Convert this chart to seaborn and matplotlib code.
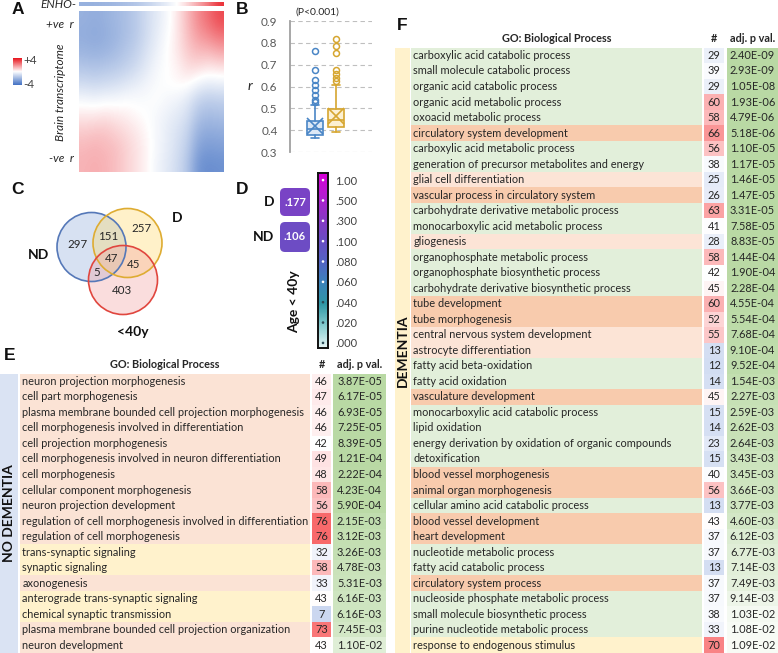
import numpy as np
import matplotlib
matplotlib.use("Agg")
import matplotlib.pyplot as plt
import seaborn as sns
from matplotlib.colors import LinearSegmentedColormap, TwoSlopeNorm
from matplotlib.patches import Circle, Rectangle, FancyBboxPatch

# ---------------- data ----------------
# Panel A: coarse reading of the correlation heat map (rows top->bottom, cols left->right)
heat_rows = [
    [-2.2, -2.3, -2.2, -2.0, -1.8, -1.5, -1.0, -0.6, -0.2, 0.4, 1.2, 2.0, 2.5, 3.1],
    [-2.3, -2.4, -2.3, -2.1, -1.8, -1.5, -1.0, -0.5, -0.1, 0.4, 1.1, 1.7, 2.0, 2.4],
    [-2.1, -2.2, -2.1, -1.9, -1.6, -1.3, -0.8, -0.4, 0.0, 0.4, 0.9, 1.2, 1.2, 1.5],
    [-1.6, -1.7, -1.6, -1.5, -1.3, -1.0, -0.6, -0.2, 0.0, 0.2, 0.6, 0.6, 0.4, 0.5],
    [-1.0, -1.1, -1.0, -0.9, -0.7, -0.5, -0.3, -0.1, 0.0, 0.1, 0.1, -0.3, -0.5, -0.4],
    [-0.2, -0.3, -0.2, -0.2, -0.1, -0.1, -0.1, 0.0, -0.2, -0.3, -0.6, -1.2, -1.4, -1.3],
    [0.4, 0.4, 0.5, 0.4, 0.3, 0.1, 0.0, -0.2, -0.4, -0.6, -0.9, -1.7, -1.9, -1.8],
    [0.9, 1.0, 1.0, 0.8, 0.6, 0.4, 0.1, -0.2, -0.5, -0.8, -1.2, -2.2, -2.4, -2.3],
    [1.2, 1.3, 1.2, 1.1, 0.8, 0.5, 0.2, -0.2, -0.5, -0.9, -1.4, -2.6, -2.8, -2.7],
    [1.3, 1.4, 1.3, 1.1, 0.8, 0.5, 0.2, -0.3, -0.6, -1.0, -1.6, -3.0, -3.2, -3.1],
]
enho_profile = [-2.2, -2.2, -2.1, -2.0, -1.8, -1.6, -1.3, -0.9, -0.5, 0.0, 0.7, 1.5, 2.3, 3.5]

# Panel B: box statistics (ND, D)
box_groups = ["ND", "D"]
box_whislo = [0.366, 0.392]
box_q1 = [0.378, 0.414]
box_med = [0.405, 0.445]
box_mean = [0.418, 0.465]
box_q3 = [0.440, 0.498]
box_whishi = [0.514, 0.605]
box_fliers = [
    [0.529, 0.540, 0.560, 0.582, 0.605, 0.628, 0.674, 0.763],
    [0.624, 0.640, 0.656, 0.674, 0.753, 0.784, 0.819],
]

# Panel C: Venn counts
venn_sets = ["ND", "D", "<40y"]
venn_only_nd, venn_only_d, venn_only_y = 297, 257, 403
venn_nd_d, venn_d_y, venn_nd_y, venn_all = 151, 45, 5, 47

# Panel D
age_groups = ["D", "ND"]
age_values = [0.177, 0.106]
scale_values = [0.0, 0.02, 0.04, 0.06, 0.08, 0.10, 0.30, 0.50, 1.00]
scale_labels = [".000", ".020", ".040", ".060", ".080", ".100", ".300", ".500", "1.00"]

# Panel E
terms_E = [
    "neuron projection morphogenesis", "cell part morphogenesis",
    "plasma membrane bounded cell projection morphogenesis",
    "cell morphogenesis involved in differentiation", "cell projection morphogenesis",
    "cell morphogenesis involved in neuron differentiation", "cell morphogenesis",
    "cellular component morphogenesis", "neuron projection development",
    "regulation of cell morphogenesis involved in differentiation",
    "regulation of cell morphogenesis", "trans-synaptic signaling", "synaptic signaling",
    "axonogenesis", "anterograde trans-synaptic signaling", "chemical synaptic transmission",
    "plasma membrane bounded cell projection organization", "neuron development",
]
cats_E = ["m"] * 11 + ["s", "s", "m", "s", "s", "m", "m"]
counts_E = [46, 47, 46, 46, 42, 49, 48, 58, 56, 76, 76, 32, 58, 33, 43, 7, 73, 43]
pvals_E = ["3.87E-05", "6.17E-05", "6.93E-05", "7.25E-05", "8.39E-05", "1.21E-04",
           "2.22E-04", "4.23E-04", "5.90E-04", "2.15E-03", "3.12E-03", "3.26E-03",
           "4.78E-03", "5.31E-03", "6.16E-03", "6.16E-03", "7.45E-03", "1.10E-02"]

# Panel F
terms_F = [
    "carboxylic acid catabolic process", "small molecule catabolic process",
    "organic acid catabolic process", "organic acid metabolic process",
    "oxoacid metabolic process", "circulatory system development",
    "carboxylic acid metabolic process", "generation of precursor metabolites and energy",
    "glial cell differentiation", "vascular process in circulatory system",
    "carbohydrate derivative metabolic process", "monocarboxylic acid metabolic process",
    "gliogenesis", "organophosphate metabolic process", "organophosphate biosynthetic process",
    "carbohydrate derivative biosynthetic process", "tube development", "tube morphogenesis",
    "central nervous system development", "astrocyte differentiation",
    "fatty acid beta-oxidation", "fatty acid oxidation", "vasculature development",
    "monocarboxylic acid catabolic process", "lipid oxidation",
    "energy derivation by oxidation of organic compounds", "detoxification",
    "blood vessel morphogenesis", "animal organ morphogenesis",
    "cellular amino acid catabolic process", "blood vessel development", "heart development",
    "nucleotide metabolic process", "fatty acid catabolic process", "circulatory system process",
    "nucleoside phosphate metabolic process", "small molecule biosynthetic process",
    "purine nucleotide metabolic process", "response to endogenous stimulus",
]
cats_F = ["g", "g", "g", "g", "g", "v", "g", "g", "p", "v", "g", "g", "p", "g", "g", "g",
          "v", "v", "p", "p", "g", "g", "v", "g", "g", "g", "g", "v", "v", "g", "v", "v",
          "g", "g", "v", "g", "g", "g", "y"]
counts_F = [29, 39, 29, 60, 58, 66, 56, 38, 25, 26, 63, 41, 28, 58, 42, 45, 60, 52, 55, 13,
            12, 14, 45, 15, 14, 23, 15, 40, 56, 13, 43, 37, 37, 13, 37, 37, 38, 33, 70]
pvals_F = ["2.40E-09", "2.93E-09", "1.05E-08", "1.93E-06", "4.79E-06", "5.18E-06",
           "1.10E-05", "1.17E-05", "1.46E-05", "1.47E-05", "3.31E-05", "7.58E-05",
           "8.83E-05", "1.44E-04", "1.90E-04", "2.28E-04", "4.55E-04", "5.54E-04",
           "7.68E-04", "9.10E-04", "9.52E-04", "1.54E-03", "2.27E-03", "2.59E-03",
           "2.62E-03", "2.64E-03", "3.43E-03", "3.45E-03", "3.66E-03", "3.77E-03",
           "4.60E-03", "6.12E-03", "6.77E-03", "7.14E-03", "7.49E-03", "9.14E-03",
           "1.03E-02", "1.08E-02", "1.09E-02"]

# ---------------- setup ----------------
sns.set_theme(style="white")
plt.rcParams["font.family"] = ["Lato", "DejaVu Sans"]
W, H = 778, 653
fig = plt.figure(figsize=(W / 100, H / 100), dpi=100)


def px_axes(x0, y0, x1, y1):
    return fig.add_axes([x0 / W, 1 - y1 / H, (x1 - x0) / W, (y1 - y0) / H])


canvas = px_axes(0, 0, W, H)
canvas.set_xlim(0, W)
canvas.set_ylim(H, 0)
canvas.axis("off")

TXT = "#262626"
for lab, (x, y) in {"A": (18, 10), "B": (242, 9), "C": (18, 189), "D": (242, 189),
                    "E": (10, 356), "F": (402, 26)}.items():
    canvas.text(x, y, lab, fontsize=12.5, fontweight="bold", ha="center", va="center",
                family=["Liberation Sans", "DejaVu Sans"], color="#111111")

# ---------------- Panel A ----------------
bwr = LinearSegmentedColormap.from_list("bwr_x", ["#4472c4", "#ffffff", "#e8161f"])
axA = px_axes(79, 11, 224, 172)
axA.imshow(np.array(heat_rows), cmap=bwr, vmin=-4, vmax=4, aspect="auto",
           interpolation="bicubic")
axA.set_xticks([]); axA.set_yticks([])
for s in axA.spines.values():
    s.set_visible(False)

axE1 = px_axes(79, 2, 224, 6.5)
axE1.imshow(np.array([enho_profile]), cmap=bwr, vmin=-4, vmax=4, aspect="auto",
            interpolation="bicubic")
axE1.axis("off")
canvas.text(76, 4.5, "ENHO-", fontsize=8.5, style="italic", ha="right", va="center", color=TXT)
canvas.text(74, 25, "+ve  r", fontsize=8.5, style="italic", ha="right", va="center", color=TXT)
canvas.text(74, 158, "-ve  r", fontsize=8.5, style="italic", ha="right", va="center", color=TXT)
canvas.text(60, 92, "Brain transcriptome", fontsize=8.5, style="italic", rotation=90,
            ha="center", va="center", color=TXT)

axL = px_axes(13, 58, 22, 85)
axL.imshow(np.linspace(4, -4, 60).reshape(-1, 1), cmap=bwr, vmin=-4, vmax=4, aspect="auto")
axL.axis("off")
canvas.text(23, 60, "+4", fontsize=8.5, ha="left", va="center", color="#404040")
canvas.text(23, 84, "-4", fontsize=8.5, ha="left", va="center", color="#404040")

# ---------------- Panel B ----------------
axB = px_axes(290, 21, 372, 152)
stats = []
for i, g in enumerate(box_groups):
    stats.append(dict(med=box_med[i], q1=box_q1[i], q3=box_q3[i], whislo=box_whislo[i],
                      whishi=box_whishi[i], mean=box_mean[i],
                      fliers=np.array(box_fliers[i]), label=g))
bp = axB.bxp(stats, positions=[1, 2], widths=0.78, patch_artist=True, showmeans=True,
             capwidths=[0.35, 0.35])
edges = ["#4a86c6", "#d6a630"]
fills = ["#dce8f6", "#fcf0d2"]
for i in range(2):
    bp["boxes"][i].set(facecolor=fills[i], edgecolor=edges[i], linewidth=1.2)
    bp["medians"][i].set(color=edges[i], linewidth=1.2)
    for w in bp["whiskers"][2 * i:2 * i + 2] + bp["caps"][2 * i:2 * i + 2]:
        w.set(color=edges[i], linewidth=1.2)
    bp["fliers"][i].set(marker="o", markerfacecolor="none", markeredgecolor=edges[i],
                        markersize=4.3, markeredgewidth=1.1)
    bp["means"][i].set(marker="x", markeredgecolor=edges[i], markerfacecolor=edges[i],
                       markersize=11, markeredgewidth=1.2)
axB.set_xlim(-0.19, 3.71)
axB.set_ylim(0.3, 0.9)
axB.set_yticks(np.arange(0.3, 0.91, 0.1))
axB.set_yticklabels([f"{v:.1f}" for v in np.arange(0.3, 0.91, 0.1)], fontsize=8.5,
                    color="#595959")
axB.tick_params(axis="y", length=0, pad=9)
axB.set_xticks([])
axB.yaxis.grid(True, linestyle=(0, (4, 3)), color="#bfbfbf", linewidth=0.8)
axB.set_axisbelow(True)
for k in ["top", "right", "bottom"]:
    axB.spines[k].set_visible(False)
axB.spines["left"].set(color="#a0a0a0", linewidth=1.3)
axB.set_facecolor("none")
canvas.text(317, 12, "(P<0.001)", fontsize=7.5, ha="center", va="center", color=TXT)
canvas.text(250, 86, "r", fontsize=10, style="italic", ha="center", va="center", color=TXT)

# ---------------- Panel C ----------------
R = 34.5
circles = [((91.5, 247), "#8faadc", "#5578b8"),
           ((127.5, 243), "#ffd966", "#deac32"),
           ((123, 280), "#f2a0a0", "#e0463e")]
for (c, fc, ec) in circles:
    canvas.add_patch(Circle(c, R, facecolor=fc, alpha=0.35, edgecolor="none"))
for (c, fc, ec) in circles:
    canvas.add_patch(Circle(c, R, facecolor="none", edgecolor=ec, linewidth=1.2))
venn_pos = [(venn_only_nd, 77, 244), (venn_nd_d, 108, 236), (venn_only_d, 141, 228),
            (venn_all, 112, 258), (venn_d_y, 134, 265), (venn_nd_y, 97, 272),
            (venn_only_y, 122, 291)]
for v, x, y in venn_pos:
    canvas.text(x, y, str(v), fontsize=8.3, ha="center", va="center", color=TXT)
for lab, (x, y) in zip(venn_sets, [(39, 255), (177, 218), (133, 332)]):
    canvas.text(x, y, lab, fontsize=10, fontweight="bold", ha="center", va="center",
                color="#111111")

# ---------------- Panel D ----------------
scale_colors = ["#e6f5f5", "#86cccf", "#2f98a6", "#3c82bc", "#5562c4", "#6c4cc4",
                "#8c36c6", "#b41cd0", "#d800d8"]
scale_cmap = LinearSegmentedColormap.from_list("agecm", scale_colors)
axD = px_axes(318, 173, 328, 348)
pos = np.arange(len(scale_values))
axD.imshow(np.linspace(0, 8, 300).reshape(-1, 1), cmap=scale_cmap, vmin=0, vmax=8,
           origin="lower", extent=(0, 1, -0.25, 8.35), aspect="auto")
dot_cols = ["#2a4a55" if v < 0.05 else "white" for v in scale_values]
axD.scatter(np.full(len(pos), 0.5), pos, s=3.5, c=dot_cols, zorder=3, linewidths=0)
axD.set_xlim(0, 1)
axD.set_ylim(-0.25, 8.35)
axD.set_xticks([])
axD.yaxis.tick_right()
axD.set_yticks(pos)
axD.set_yticklabels(scale_labels, fontsize=8, color="#404040")
axD.tick_params(axis="y", length=0, pad=5)
for s in axD.spines.values():
    s.set(color="#111111", linewidth=1.4)

box_rows = [(188, 216), (222, 252)]
for g, v, (y0, y1) in zip(age_groups, age_values, box_rows):
    p = np.interp(v, scale_values, pos) / 8
    canvas.add_patch(FancyBboxPatch((280, y0), 30, y1 - y0,
                                    boxstyle="round,pad=0,rounding_size=5",
                                    facecolor=scale_cmap(p), edgecolor="none"))
    canvas.text(295, (y0 + y1) / 2, f"{v:.3f}"[1:], fontsize=8, fontweight="bold",
                color="white", ha="center", va="center")
    canvas.text(274, (y0 + y1) / 2, g, fontsize=10, fontweight="bold", color="#111111",
                ha="right", va="center")
canvas.text(294, 302, "Age < 40y", fontsize=10, fontweight="bold", rotation=90,
            ha="center", va="center", color="#111111")

# ---------------- Tables E and F ----------------
ROW_H = 15.52
count_cmap = LinearSegmentedColormap.from_list("cnt", ["#cbd7f0", "#ffffff", "#f8696b"])
count_norm = TwoSlopeNorm(vmin=7, vcenter=42.5, vmax=76)
green_cmap = LinearSegmentedColormap.from_list("grn", ["#ffffff", "#b9d9a4"])
cat_colors = {"m": "#fbe3d5", "s": "#fff2cc", "g": "#e2efda", "p": "#fce4d6",
              "v": "#f8cbad", "y": "#fff2cc"}
ROW_FS = 7.9
HEAD_FS = 7.8


def draw_table(terms, cats, counts, pvals, p_ref, cols, header_y):
    n = len(terms)
    top = H - n * ROW_H
    (xt0, xt1), (xn0, xn1), (xp0, xp1) = cols
    axt = px_axes(xt0, top, xt1, H)
    axt.barh(np.arange(n), [1] * n, height=1.0, left=0,
             color=[cat_colors[c] for c in cats], linewidth=0)
    axt.set_xlim(0, 1)
    axt.set_ylim(n - 0.5, -0.5)
    axt.axis("off")
    for i, t in enumerate(terms):
        axt.text(2.5 / (xt1 - xt0), i, t, fontsize=ROW_FS, ha="left", va="center", color=TXT)

    cnt = np.array(counts)
    axn = px_axes(xn0, top, xn1, H)
    sns.heatmap(count_norm(cnt).reshape(-1, 1), ax=axn, cmap=count_cmap, vmin=0, vmax=1,
                cbar=False, annot=cnt.reshape(-1, 1), fmt="d", xticklabels=False,
                yticklabels=False, annot_kws=dict(fontsize=ROW_FS, color=TXT))

    pv = np.array([float(s) for s in pvals])
    axp = px_axes(xp0, top, xp1, H)
    sns.heatmap(np.clip(1 - pv / p_ref, 0, 1).reshape(-1, 1), ax=axp, cmap=green_cmap,
                vmin=0, vmax=1, cbar=False, annot=np.array(pvals).reshape(-1, 1), fmt="",
                xticklabels=False, yticklabels=False,
                annot_kws=dict(fontsize=ROW_FS, color=TXT))

    canvas.text((xt0 + xt1) / 2, header_y, "GO: Biological Process", fontsize=HEAD_FS,
                fontweight="bold", ha="center", va="center", color=TXT)
    canvas.text((xn0 + xn1) / 2, header_y, "#", fontsize=HEAD_FS, fontweight="bold",
                ha="center", va="center", color=TXT)
    canvas.text((xp0 + xp1) / 2, header_y, "adj. p val.", fontsize=HEAD_FS, fontweight="bold",
                ha="center", va="center", color=TXT)
    return top


topE = draw_table(terms_E, cats_E, counts_E, pvals_E, 0.02,
                  [(20, 310), (312, 331), (333, 386)], 365)
canvas.add_patch(Rectangle((0, topE), 18, H - topE, facecolor="#dae3f3", edgecolor="none"))
canvas.text(9, (topE + H) / 2, "NO DEMENTIA", rotation=90, fontsize=10, fontweight="bold",
            ha="center", va="center", color="#111111")

topF = draw_table(terms_F, cats_F, counts_F, pvals_F, 0.0122,
                  [(411, 702), (704, 724), (727, 778)], 39)
canvas.add_patch(Rectangle((395, topF), 15, H - topF, facecolor="#fff2cc", edgecolor="none"))
canvas.text(402.5, (topF + H) / 2, "DEMENTIA", rotation=90, fontsize=10, fontweight="bold",
            ha="center", va="center", color="#111111")

fig.savefig("out.png", dpi=100)
